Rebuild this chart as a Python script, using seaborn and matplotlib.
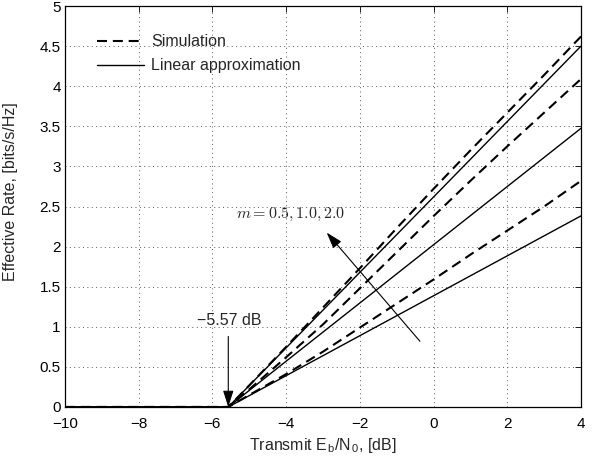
import numpy as np
import pandas as pd
import matplotlib
matplotlib.use("Agg")
import matplotlib.pyplot as plt
import seaborn as sns
from matplotlib.lines import Line2D
from matplotlib.ticker import FormatStrFormatter

# ---- data ----
ebn0_db = [-10, -5.57, -5, -4, -3, -2, -1, 0, 1, 2, 3, 4]

sim_m20 = [0, 0, 0.27, 0.75, 1.24, 1.73, 2.23, 2.72, 3.20, 3.67, 4.14, 4.62]
sim_m10 = [0, 0, 0.22, 0.62, 1.03, 1.48, 1.93, 2.38, 2.82, 3.25, 3.67, 4.09]
sim_m05 = [0, 0, 0.15, 0.41, 0.69, 0.99, 1.29, 1.59, 1.90, 2.20, 2.50, 2.82]

lin_m20 = [0, 0, 0.268, 0.738, 1.208, 1.679, 2.149, 2.619, 3.089, 3.560, 4.030, 4.50]
lin_m10 = [0, 0, 0.207, 0.571, 0.934, 1.297, 1.660, 2.023, 2.386, 2.749, 3.112, 3.475]
lin_m05 = [0, 0, 0.142, 0.391, 0.640, 0.889, 1.138, 1.387, 1.636, 1.885, 2.134, 2.383]

x_ticks = [-10, -8, -6, -4, -2, 0, 2, 4]
y_ticks = [0, 0.5, 1, 1.5, 2, 2.5, 3, 3.5, 4, 4.5, 5]

threshold_db = -5.57
legend_labels = ["Simulation", "Linear approximation"]

sns.set_style("white")
plt.rcParams["font.family"] = ["Liberation Sans", "DejaVu Sans"]
plt.rcParams["mathtext.fontset"] = "cm"

fig = plt.figure(figsize=(6.05, 4.62), dpi=100)
ax = fig.add_axes([65 / 605, 1 - 407 / 462, 516 / 605, 401 / 462])

dash = (0, (4.8, 2.8))
for ys in (sim_m20, sim_m10, sim_m05):
    df = pd.DataFrame({"x": ebn0_db, "y": ys})
    sns.lineplot(data=df, x="x", y="y", ax=ax, color="k", linewidth=1.5,
                 linestyle=dash, sort=False, estimator=None)
for ys in (lin_m20, lin_m10, lin_m05):
    df = pd.DataFrame({"x": ebn0_db, "y": ys})
    sns.lineplot(data=df, x="x", y="y", ax=ax, color="k", linewidth=1.0,
                 linestyle="-", sort=False, estimator=None)

ax.set_xlim(-10, 4)
ax.set_ylim(0, 5)
ax.set_xticks(x_ticks)
ax.set_yticks(y_ticks)
ax.yaxis.set_major_formatter(FormatStrFormatter("%g"))
ax.tick_params(direction="in", length=4, width=0.6, top=True, right=True,
               labelsize=11, colors="k")
ax.tick_params(axis="x", pad=7)
ax.tick_params(axis="y", pad=3)
ax.grid(True, linestyle=(0, (1, 3.5)), color="0.35", linewidth=0.7)
for s in ax.spines.values():
    s.set_color("k")
    s.set_linewidth(0.9)

ax.set_xlabel(r"Transmit E$_\mathregular{b}$/N$_\mathregular{0}$, [dB]", fontsize=11.5, labelpad=4)
ax.set_ylabel("Effective Rate, [bits/s/Hz]", fontsize=11.5)
ax.yaxis.set_label_coords(-0.091, 0.536)

handles = [Line2D([], [], color="k", lw=1.5, linestyle=dash),
           Line2D([], [], color="k", lw=1.0)]
ax.legend(handles, legend_labels, loc="upper left", bbox_to_anchor=(0.062, 0.929),
          frameon=False, fontsize=11.5, handlelength=2.95, handletextpad=0.44,
          labelspacing=0.55, borderpad=0, borderaxespad=0)

# annotations
ax.annotate("", xy=(threshold_db, 0), xytext=(threshold_db, 0.88),
            arrowprops=dict(arrowstyle="-|>,head_length=1.0,head_width=0.32",
                            color="k", lw=0.8, shrinkA=0, shrinkB=0))
ax.text(-5.55, 1.08, "\u22125.57 dB", ha="center", va="center", fontsize=11.5)

ax.annotate("", xy=(-2.9, 2.175), xytext=(-0.37, 0.82),
            arrowprops=dict(arrowstyle="-|>,head_length=1.0,head_width=0.32",
                            color="k", lw=0.8, shrinkA=0, shrinkB=0))
ax.text(-3.89, 2.40, r"$m=0.5, 1.0, 2.0$", ha="center", va="center", fontsize=11.5)

fig.savefig("out.png", dpi=100)
